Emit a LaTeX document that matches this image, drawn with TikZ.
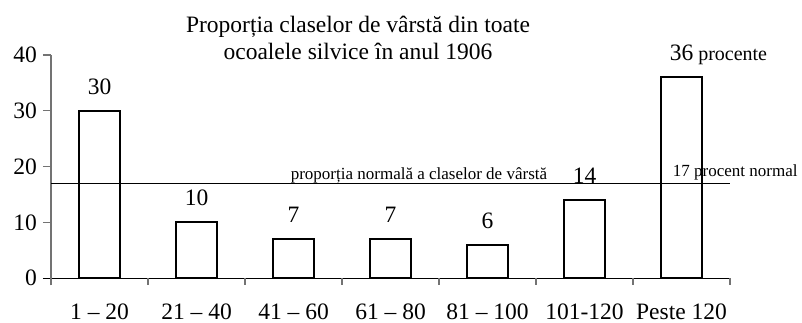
\documentclass[tikz,border=0pt]{standalone}
\usepackage{fontspec}
\setmainfont{Liberation Serif}
\usetikzlibrary{calc}
\newcommand{\bigfont}{\fontsize{23.5}{27}\selectfont}
\newcommand{\smallfont}{\fontsize{17}{20}\selectfont}

\begin{document}
\begin{tikzpicture}[x=97pt, y=5.58pt,
	bar/.style={line width=2pt, color=black},
	axisline/.style={line width=1.2pt, color=black!55},
	barlabel/.style={anchor=base, inner sep=0pt, font=\bigfont}]
			%%%%% START %%%%%
			\useasboundingbox (-51pt, -44.7pt) rectangle (751pt, 278.3pt);
			
			\node[anchor=base, inner sep=0pt, font=\bigfont] (title1) at (3.165, 0) [yshift=245.3pt] {Proporția claselor de vârstă din toate};
			\node[anchor=base, inner sep=0pt, font=\bigfont] (title2) at (3.165, 0) [yshift=218.3pt] {ocoalele silvice în anul 1906};
			
			\draw[axisline] (0, -7pt) -- (0, 40);
			\foreach \y in {0, 10, ..., 40} {
				\draw[axisline] (-8pt, \y) -- (0, \y);
				\node[anchor=east, inner sep=0pt, font=\bigfont] (ytick\y) at (-14pt, \y) {\y};
			}
			
			\foreach \v [count=\i] in {30, 10, 7, 7, 6, 14, 36} {
				\draw[bar] (\i-0.5-0.209, 0) rectangle (\i-0.5+0.209, \v);
			}
			\foreach \v [count=\i] in {30, 10, 7, 7, 6, 14} {
				\node[barlabel] (val\i) at ($(\i-0.5, \v)+(0, 16.5pt)$) {\v};
			}
			\node[barlabel] (val7) at ($(6.5, 36)+(0, 16.5pt)$) {36\rlap{\smallfont\fontsize{20}{24}\selectfont\ procente}};
			
			\draw[line width=1.3pt] (-8pt, 0) -- (7, 0);
			\foreach \x in {0, ..., 7} {
				\draw[axisline] (\x, 0) -- (\x, -7pt);
			}
			\foreach \lab [count=\i] in {1 -- 20, 21 -- 40, 41 -- 60, 61 -- 80, 81 -- 100, 101-120, Peste 120} {
				\node[anchor=base, inner sep=0pt, font=\bigfont] (cat\i) at ($(\i-0.5, 0)+(0, -41pt)$) {\lab};
			}
			
			\draw[line width=1.2pt] (0, 17) -- (7, 17);
			\node[anchor=base west, inner sep=0pt, font=\smallfont] (normtext) at ($(2.47, 17)+(0, 4pt)$) {proporția normală a claselor de vârstă};
			\node[anchor=base west, inner sep=0pt, font=\smallfont] (normval) at ($(6.41, 17)+(0, 6.6pt)$) {17 procent normal};
			
			%%%%% END %%%%%
\end{tikzpicture}
\end{document}
